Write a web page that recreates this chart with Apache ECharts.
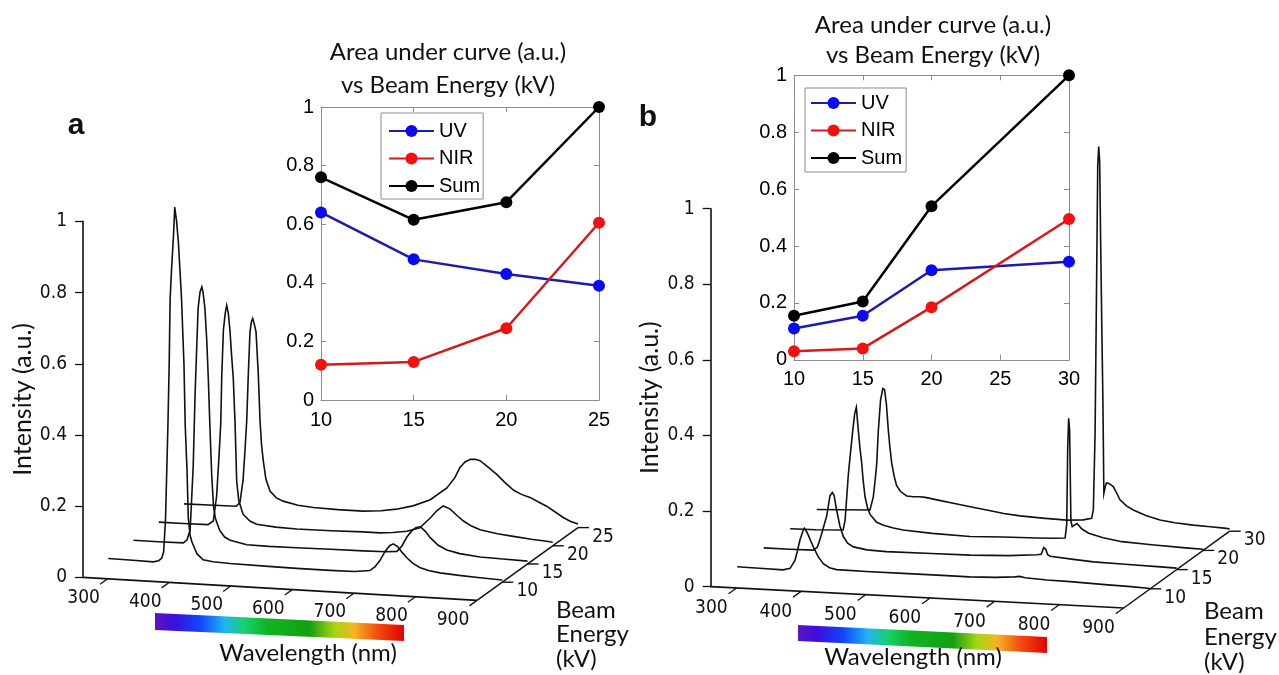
<!DOCTYPE html>
<html><head><meta charset="utf-8">
<script src="https://cdn.jsdelivr.net/npm/echarts@6/dist/echarts.min.js"></script>
<style>html,body{margin:0;padding:0;background:#fff}#c{width:1279px;height:675px}</style>
</head><body><div id="c"></div><script>
// ---------------- data ----------------
const WL_MIN = 260, WL_MAX = 900;
const WL_TICKS = [300, 400, 500, 600, 700, 800, 900];
const ENERGY_LABELS_A = ['10', '15', '20', '25'];
const ENERGY_LABELS_B = ['10', '15', '20', '30'];

// panel a spectra [wavelength nm, intensity a.u.]
const SPEC_A_10 = [[260,0.002],[300,0.001],[333,0],[342,0.004],[347,0.012],[350,0.03],[353,0.12],[357,0.39],[359,0.56],[360.5,0.74],[363,0.83],[366,0.92],[368,1.0],[371,0.96],[374,0.9],[379,0.745],[383,0.56],[385,0.39],[388,0.26],[390,0.13],[393,0.08],[396,0.062],[404,0.03],[414,0.014],[430,0.01],[458,0.008],[520,0.006],[566,0.005],[620,0.005],[660,0.006],[685,0.011],[693,0.022],[701,0.04],[710,0.068],[717,0.084],[723,0.09],[730,0.083],[737,0.068],[745,0.053],[755,0.038],[766,0.028],[780,0.021],[799,0.016],[830,0.012],[864,0.009],[900,0.006]];
const SPEC_A_15 = [[260,0.002],[300,0.002],[341,0.003],[347,0.012],[352,0.04],[357,0.22],[360,0.42],[363,0.57],[365,0.665],[368,0.71],[371,0.725],[373,0.71],[376,0.665],[379,0.575],[381.5,0.47],[384,0.34],[387,0.2],[390,0.11],[393,0.077],[400,0.044],[408,0.026],[417,0.018],[444,0.008],[480,0.007],[525,0.008],[580,0.009],[633,0.01],[670,0.011],[688,0.014],[696,0.03],[704,0.056],[712,0.074],[719,0.084],[726,0.087],[734,0.075],[742,0.058],[755,0.038],[769,0.026],[790,0.018],[823,0.012],[860,0.01],[900,0.008]];
const SPEC_A_20 = [[260,0.002],[300,0.002],[340,0.003],[348.6,0.014],[354,0.084],[358,0.2],[360.7,0.29],[362.3,0.42],[365,0.552],[368,0.6],[370.4,0.622],[373,0.6],[375.7,0.552],[378,0.49],[381,0.42],[384,0.29],[386.6,0.13],[390,0.075],[397,0.038],[408,0.02],[419,0.012],[450,0.007],[484,0.005],[540,0.006],[592,0.008],[619,0.008],[640,0.011],[663,0.017],[684,0.029],[701,0.058],[712,0.08],[722,0.094],[733,0.087],[744,0.07],[755,0.055],[768,0.042],[782,0.033],[810,0.025],[836,0.02],[865,0.015],[890,0.012],[900,0.01]];
const SPEC_A_25 = [[260,0.002],[300,0.003],[345,0.004],[351,0.016],[356,0.08],[359,0.16],[361.9,0.246],[364.5,0.378],[367.2,0.497],[369.5,0.525],[371.6,0.534],[374,0.52],[377,0.497],[380.7,0.378],[383.5,0.248],[386,0.18],[388.8,0.136],[393,0.085],[399.7,0.052],[410,0.034],[421,0.026],[445,0.017],[470,0.013],[510,0.011],[551,0.011],[580,0.015],[605,0.022],[632,0.034],[660,0.054],[687,0.09],[700,0.12],[708,0.149],[716,0.165],[725,0.174],[733,0.175],[741,0.172],[754,0.155],[768,0.136],[781,0.115],[795,0.095],[808,0.084],[822,0.077],[835,0.066],[849,0.055],[863,0.04],[876,0.026],[888,0.016],[900,0.01]];

// panel b spectra
const SPEC_B_10 = [[260,0.002],[300,0.001],[331,0],[342,0.005],[349.6,0.027],[353,0.05],[357.3,0.082],[362.4,0.108],[364,0.113],[367,0.106],[370,0.096],[374,0.08],[378,0.065],[385.7,0.039],[393.4,0.022],[403,0.012],[414,0.008],[460,0.007],[517,0.007],[570,0.007],[620,0.007],[660,0.009],[690,0.013],[698,0.015],[706,0.012],[740,0.009],[776,0.008],[830,0.005],[870,0.003],[900,0.001]];
const SPEC_B_15 = [[260,0.001],[300,0.001],[337,0.002],[343,0.01],[347,0.03],[352,0.06],[357.6,0.094],[362.7,0.148],[366.3,0.157],[369,0.15],[373,0.111],[378,0.07],[383.4,0.042],[390,0.025],[399,0.016],[420,0.01],[450,0.008],[520,0.009],[580,0.01],[640,0.014],[683,0.02],[690,0.022],[694,0.04],[697,0.036],[700,0.022],[704,0.018],[740,0.013],[771,0.009],[820,0.007],[875,0.005],[900,0.004]];
const SPEC_B_20 = [[260,0.001],[300,0.002],[342,0.005],[345,0.03],[347.6,0.092],[350,0.15],[352.7,0.198],[356.9,0.269],[360,0.315],[362.5,0.331],[365.5,0.271],[368,0.225],[370.8,0.184],[373,0.14],[376,0.095],[380,0.066],[384,0.049],[394,0.03],[404.6,0.023],[420,0.017],[435,0.013],[480,0.008],[538.6,0.005],[590,0.008],[642,0.01],[670,0.012],[686,0.014],[688.5,0.05],[690,0.25],[691.5,0.331],[693,0.3],[695,0.06],[697,0.045],[701,0.05],[704.5,0.054],[712,0.04],[722.5,0.03],[745,0.02],[774,0.012],[820,0.008],[877,0.004],[900,0.003]];
const SPEC_B_30 = [[260,0.001],[300,0.004],[342.6,0.007],[347.7,0.042],[350.5,0.085],[353,0.13],[355.5,0.218],[359,0.3],[362.5,0.33],[365,0.328],[368,0.29],[371,0.22],[373.5,0.175],[376.2,0.134],[380,0.1],[383.9,0.075],[390,0.06],[399.5,0.049],[410,0.048],[420,0.049],[428,0.048],[435.6,0.046],[450,0.042],[471.7,0.036],[500,0.029],[523.4,0.023],[550,0.016],[575,0.012],[610,0.009],[647.4,0.007],[673,0.01],[686,0.015],[688.7,0.038],[691.4,0.241],[693.5,0.6],[695.5,0.95],[697,1.0],[698.5,0.96],[700,0.75],[702,0.5],[703.5,0.33],[705,0.083],[707,0.1],[709,0.111],[713,0.11],[719.6,0.102],[725,0.085],[730,0.068],[740,0.053],[750.6,0.043],[770,0.03],[792,0.02],[815,0.015],[843.6,0.011],[870,0.009],[895,0.007],[900,0.006]];

// insets: area under curve vs beam energy
const INSET_A_KV = [10, 15, 20, 25];
const INSET_A_UV = [0.64, 0.48, 0.43, 0.39];
const INSET_A_NIR = [0.12, 0.13, 0.245, 0.605];
const INSET_A_SUM = [0.76, 0.615, 0.675, 1.0];
const INSET_B_KV = [10, 15, 20, 30];
const INSET_B_UV = [0.11, 0.155, 0.315, 0.345];
const INSET_B_NIR = [0.03, 0.04, 0.185, 0.495];
const INSET_B_SUM = [0.155, 0.205, 0.54, 1.0];

// ---------------- layout / style ----------------
const NARROW = "'Liberation Sans Narrow','Arial Narrow','DejaVu Sans Condensed',sans-serif";
const ARIAL = "'Liberation Sans',Arial,sans-serif";
const HUMAN = "Lato,'Open Sans',sans-serif";
const INK = '#111111';

const PANELS = [
  {grid:{left:83, top:221.4, width:394, height:356}, step:[25.25,-18.2], shear:23/394,
   labels:ENERGY_LABELS_A, spectra:[SPEC_A_10, SPEC_A_15, SPEC_A_20, SPEC_A_25], nameGap:44},
  {grid:{left:710.7, top:208.7, width:413, height:378}, step:[26.5,-19.2], shear:21.3/413,
   labels:ENERGY_LABELS_B, spectra:[SPEC_B_10, SPEC_B_15, SPEC_B_20, SPEC_B_30], nameGap:48}
];

function proj(api, P, wl, v, d) {
  const c = api.coord([wl, v]);
  const x0 = api.coord([WL_MIN, 0])[0];
  return [c[0] + d * P.step[0], c[1] + d * P.step[1] + P.shear * (c[0] - x0)];
}
function txt(x, y, text, font, align, valign, extra) {
  return Object.assign({type:'text', x:x, y:y, silent:true,
    style:Object.assign({text:text, fill:'#111', font:font, align:align, verticalAlign:valign,
      textAlign:align, textVerticalAlign:valign}, extra || {})});
}

const grids = [], xAxes = [], yAxes = [], series = [];

PANELS.forEach((P, i) => {
  grids.push(Object.assign({outerBoundsMode:'none', containLabel:false}, P.grid));
  xAxes.push({gridIndex:i, type:'value', min:WL_MIN, max:WL_MAX, show:false});
  yAxes.push({gridIndex:i, type:'value', min:0, max:1, interval:0.2, position:'left',
    axisLine:{show:true, onZero:false, lineStyle:{color:INK, width:1.6}},
    axisTick:{show:true, inside:false, length:8, lineStyle:{color:INK, width:1.3}},
    axisLabel:{margin:16, fontFamily:NARROW, fontSize:19, color:INK},
    splitLine:{show:false},
    name:'Intensity (a.u.)', nameLocation:'middle', nameGap:P.nameGap, nameRotate:90,
    nameTextStyle:{fontFamily:HUMAN, fontSize:25, color:'#111'}});
  // spectra
  series.push({type:'custom', coordinateSystem:'cartesian2d', xAxisIndex:i, yAxisIndex:i,
    clip:false, silent:true, z:3,
    data:P.spectra.map((s, k) => [WL_MIN, 0, k]), encode:{x:0, y:1},
    renderItem:(params, api) => {
      const k = api.value(2);
      const pts = P.spectra[k].map(p => proj(api, P, p[0], p[1], k + 1));
      return {type:'polyline', shape:{points:pts}, style:{stroke:INK, lineWidth:1.6, fill:null}};
    }});
  // 3-D frame: wavelength axis and beam energy axis
  series.push({type:'custom', coordinateSystem:'cartesian2d', xAxisIndex:i, yAxisIndex:i,
    clip:false, silent:true, z:3, data:[[WL_MIN, 0, 0]], encode:{x:0, y:1},
    renderItem:(params, api) => {
      const ch = [];
      const ln = (a, b, w) => ({type:'line', shape:{x1:a[0], y1:a[1], x2:b[0], y2:b[1]},
        style:{stroke:INK, lineWidth:w}});
      const n = P.labels.length;
      ch.push(ln(proj(api,P,WL_MIN,0,0), proj(api,P,WL_MAX,0,0), 1.7));
      ch.push(ln(proj(api,P,WL_MAX,0,0), proj(api,P,WL_MAX,0,n), 1.5));
      WL_TICKS.forEach(t => {
        const a = proj(api,P,t,0,0), b = proj(api,P,t,0,-0.3), c = proj(api,P,t,0,-0.95);
        ch.push(ln(a, b, 1.3));
        ch.push(txt(c[0], c[1] + 2, String(t), '19px ' + NARROW, 'center', 'middle'));
      });
      P.labels.forEach((lab, k) => {
        const a = proj(api,P,WL_MAX,0,k + 1);
        ch.push(ln(a, [a[0] + 11, a[1]], 1.4));
        ch.push(txt(a[0] + 25, a[1] + 9, lab, '19px ' + NARROW, 'center', 'middle'));
      });
      return {type:'group', children:ch};
    }});
});

// insets
const INSETS = [
  {grid:{left:321, top:107, width:278, height:293}, xmin:10, xmax:25, kv:INSET_A_KV,
   uv:INSET_A_UV, nir:INSET_A_NIR, sum:INSET_A_SUM,
   legend:{left:381, top:113, padding:[8,3,3,7]}},
  {grid:{left:794, top:75.3, width:275, height:284.5}, xmin:10, xmax:30, kv:INSET_B_KV,
   uv:INSET_B_UV, nir:INSET_B_NIR, sum:INSET_B_SUM,
   legend:{left:805, top:88, padding:[5,4,4,5]}}
];
const GRAY = '#8c8c8c';
const legends = [];
INSETS.forEach((S, j) => {
  const gi = grids.length;
  grids.push(Object.assign({outerBoundsMode:'none', containLabel:false, show:true,
    backgroundColor:'#fff', borderWidth:0}, S.grid));
  const common = {gridIndex:gi, type:'value', splitLine:{show:false},
    axisLine:{show:true, onZero:false, lineStyle:{color:GRAY, width:1}},
    axisTick:{show:true, inside:true, length:5, lineStyle:{color:GRAY, width:1}}};
  const xi = xAxes.length, yi = yAxes.length;
  xAxes.push(Object.assign({}, common, {min:S.xmin, max:S.xmax, interval:5, position:'bottom',
    axisLabel:{color:'#000', fontSize:20, fontFamily:ARIAL, margin:10}}));
  xAxes.push(Object.assign({}, common, {min:S.xmin, max:S.xmax, interval:5, position:'top',
    axisLabel:{show:false}}));
  yAxes.push(Object.assign({}, common, {min:0, max:1, interval:0.2, position:'left',
    axisLabel:{color:'#000', fontSize:20, fontFamily:ARIAL, margin:7}}));
  yAxes.push(Object.assign({}, common, {min:0, max:1, interval:0.2, position:'right',
    axisLabel:{show:false}}));
  const mk = (name, ys, lc, mc) => ({type:'line', name:name, xAxisIndex:xi, yAxisIndex:yi,
    data:S.kv.map((x, k) => [x, ys[k]]), symbol:'circle', symbolSize:12, showSymbol:true,
    clip:false, silent:true, z:5,
    lineStyle:{color:lc, width:2.5}, itemStyle:{color:mc}});
  series.push(mk('UV', S.uv, '#1c1caa', '#0a0af0'));
  series.push(mk('NIR', S.nir, '#d41a1a', '#f21010'));
  series.push(mk('Sum', S.sum, '#000000', '#000000'));
  legends.push(Object.assign({orient:'vertical', data:['UV','NIR','Sum'], itemWidth:45, itemHeight:15,
    itemGap:7.5, borderColor:GRAY, borderWidth:1, backgroundColor:'#fff', selectedMode:false, z:10,
    textStyle:{fontSize:20, fontFamily:ARIAL, color:'#000', lineHeight:20}}, S.legend));
});

function bar(pts) {
  return {type:'polygon', silent:true, shape:{points:pts}, style:{fill:new echarts.graphic.LinearGradient(0,0,1,0,[
    {offset:0,color:'#5a14c4'},{offset:0.08,color:'#3a10dc'},{offset:0.18,color:'#1244ff'},
    {offset:0.28,color:'#22b4f0'},{offset:0.36,color:'#18d070'},{offset:0.45,color:'#10b422'},
    {offset:0.62,color:'#12a012'},{offset:0.72,color:'#a8d414'},{offset:0.8,color:'#f4b424'},
    {offset:0.89,color:'#f25012'},{offset:1,color:'#e40000'}])}};
}

const graphics = [
  txt(76, 126, 'a', 'bold 30px ' + ARIAL, 'center', 'middle'),
  txt(648, 118, 'b', 'bold 30px ' + ARIAL, 'center', 'middle'),
  txt(448, 52, 'Area under curve (a.u.)', '24px ' + HUMAN, 'center', 'middle'),
  txt(448, 85, 'vs Beam Energy (kV)', '24px ' + HUMAN, 'center', 'middle'),
  txt(933, 25, 'Area under curve (a.u.)', '24px ' + HUMAN, 'center', 'middle'),
  txt(933, 55, 'vs Beam Energy (kV)', '24px ' + HUMAN, 'center', 'middle'),
  bar([[155,613],[404,625],[404,641],[155,630]]),
  bar([[798,625],[1047,637],[1047,653],[798,641]]),
  txt(308, 653, 'Wavelength (nm)', '24px ' + HUMAN, 'center', 'middle'),
  txt(913, 657, 'Wavelength (nm)', '24px ' + HUMAN, 'center', 'middle'),
  txt(556, 598, 'Beam\nEnergy\n(kV)', '24px ' + HUMAN, 'left', 'top', {lineHeight:24.5}),
  txt(1204, 599, 'Beam\nEnergy\n(kV)', '24px ' + HUMAN, 'left', 'top', {lineHeight:25.5})
];

const chart = echarts.init(document.getElementById('c'), null, {renderer:'canvas'});
chart.setOption({
  animation:false,
  backgroundColor:'#fff',
  grid:grids, xAxis:xAxes, yAxis:yAxes, series:series, legend:legends,
  graphic:{elements:graphics}
});
</script></body></html>
